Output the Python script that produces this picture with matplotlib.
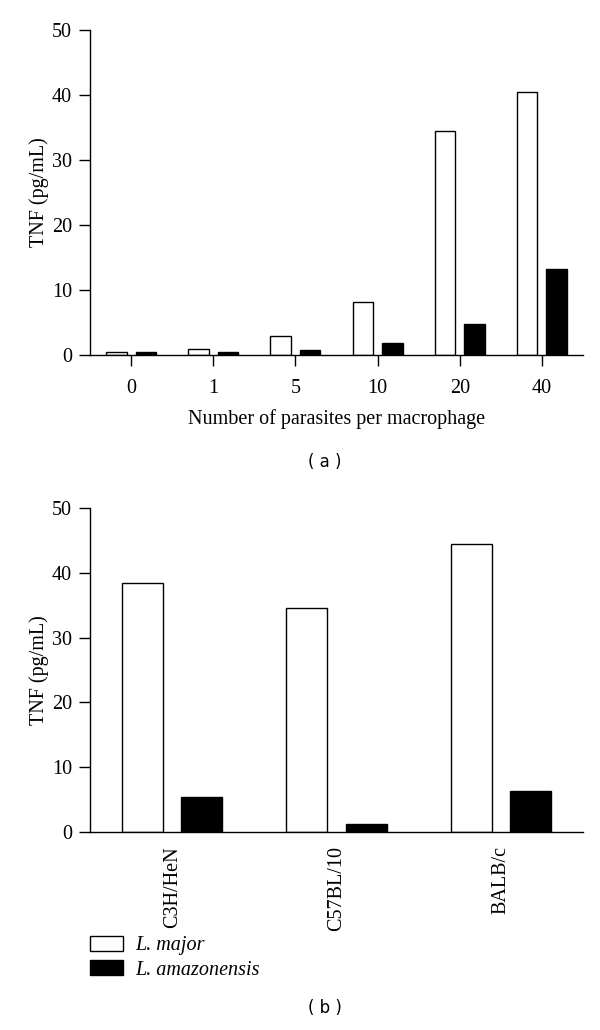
import matplotlib
matplotlib.use("Agg")
import matplotlib.pyplot as plt
import numpy as np
from matplotlib.patches import Patch

# panel (a): TNF vs parasite load
parasites = ["0", "1", "5", "10", "20", "40"]
major_a = [0.4, 0.9, 3.0, 8.2, 34.4, 40.5]
amazon_a = [0.4, 0.4, 0.7, 1.8, 4.8, 13.2]

# panel (b): TNF by mouse strain
strains = ["C3H/HeN", "C57BL/10", "BALB/c"]
major_b = [38.4, 34.5, 44.4]
amazon_b = [5.4, 1.2, 6.4]

yticks = [0, 10, 20, 30, 40, 50]
series_names = ["L. major", "L. amazonensis"]

serif = "Liberation Serif"
plt.rcParams["font.family"] = serif
fs = 14.5

fig = plt.figure(figsize=(6, 10.3), dpi=100)

W, H = 600.0, 1030.0
ax_a = fig.add_axes([90 / W, 1 - 355 / H, (583 - 90) / W, (355 - 30) / H])
ax_b = fig.add_axes([90 / W, 1 - 832 / H, (583 - 90) / W, (832 - 508) / H])

bw = 0.25
off = 0.18


def style(ax):
    for s in ["top", "right"]:
        ax.spines[s].set_visible(False)
    for s in ["left", "bottom"]:
        ax.spines[s].set_linewidth(1.0)
    ax.set_ylim(0, 50)
    ax.set_yticks(yticks)
    ax.tick_params(axis="y", direction="out", length=8, width=1, labelsize=fs, pad=5)
    ax.set_ylabel("TNF (pg/mL)", fontsize=fs, labelpad=2)


# (a)
x = np.arange(len(parasites))
ax_a.bar(x - off, major_a, bw, color="white", edgecolor="black", linewidth=1)
ax_a.bar(x + off, amazon_a, bw, color="black", edgecolor="black", linewidth=1)
ax_a.set_xlim(-0.5, len(parasites) - 0.5)
ax_a.set_xticks(x)
ax_a.set_xticklabels(parasites)
ax_a.tick_params(axis="x", direction="out", length=8, width=1, labelsize=fs, pad=9)
ax_a.set_xlabel("Number of parasites per macrophage", fontsize=fs, labelpad=8)
style(ax_a)

# (b)
xb = np.arange(len(strains))
ax_b.bar(xb - off, major_b, bw, color="white", edgecolor="black", linewidth=1)
ax_b.bar(xb + off, amazon_b, bw, color="black", edgecolor="black", linewidth=1)
ax_b.set_xlim(-0.5, len(strains) - 0.5)
ax_b.set_xticks(xb)
ax_b.set_xticklabels(strains, rotation=90)
ax_b.tick_params(axis="x", length=0, labelsize=fs, pad=10)
style(ax_b)

handles = [Patch(facecolor="white", edgecolor="black"),
           Patch(facecolor="black", edgecolor="black")]
fig.legend(handles, series_names, loc="upper left",
           bbox_to_anchor=(90 / W, 1 - 936 / H), frameon=False,
           prop={"family": serif, "style": "italic", "size": fs},
           handlelength=1.65, handleheight=0.75, labelspacing=0.25,
           handletextpad=0.6, borderpad=0, borderaxespad=0)

fig.text(325 / W, 1 - 462 / H, "( a )", ha="center", va="center",
         fontsize=12, family="DejaVu Sans")
fig.text(325 / W, 1 - 1008 / H, "( b )", ha="center", va="center",
         fontsize=12, family="DejaVu Sans")

fig.savefig("out.png", dpi=100, facecolor="white")
